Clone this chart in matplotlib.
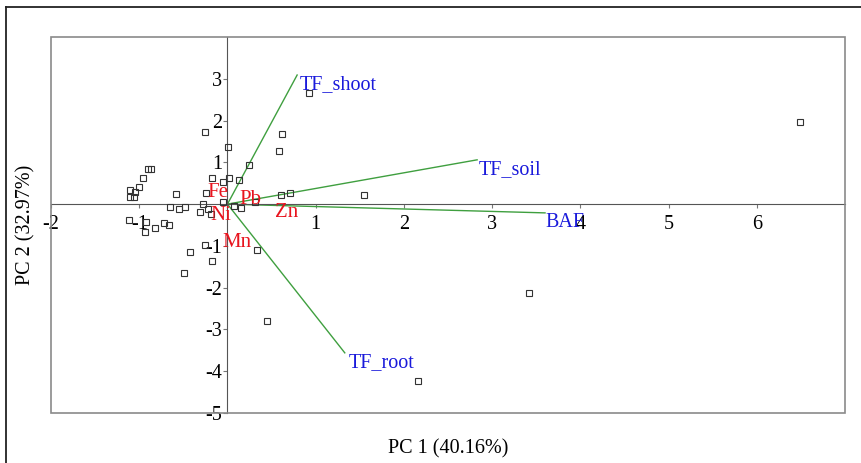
import numpy as np
import matplotlib.pyplot as plt
from matplotlib.lines import Line2D
from matplotlib.patches import Rectangle

plt.rcParams['font.family'] = ['Liberation Serif', 'DejaVu Serif']
plt.rcParams['axes.unicode_minus'] = False

# ----------------------------------------------
# Data
# ----------------------------------------------

# sample scores
pc1 = [-0.26, 0.01, 0.62, 0.59, 0.24, -0.87, -0.90, -0.96, -1.00, -1.11,
       -1.05, -1.11, -1.06, -0.17, -0.05, 0.02, 0.13, -0.58, -0.24, -0.28,
       -0.05, -0.65, -0.55, -0.48, -0.31, -0.22, -0.19, 0.07, 0.15, 0.31,
       -1.12, -0.92, -0.93, -0.82, -0.72, -0.66, -0.25, -0.43, -0.17, 0.34,
       -0.49, 0.93, 0.61, 0.71, 1.55, 0.45, 2.16, 3.42, 6.49]
pc2 = [1.73, 1.37, 1.67, 1.27, 0.94, 0.85, 0.83, 0.63, 0.41, 0.34,
       0.29, 0.16, 0.16, 0.62, 0.52, 0.63, 0.58, 0.24, 0.26, 0.01,
       0.04, -0.06, -0.12, -0.08, -0.20, -0.12, -0.23, -0.05, -0.09, 0.04,
       -0.37, -0.44, -0.66, -0.58, -0.46, -0.49, -0.97, -1.15, -1.35, -1.11,
       -1.65, 2.66, 0.21, 0.27, 0.22, -2.80, -4.23, -2.13, 1.96]

# variable loadings (drawn as lines from the origin)
vars_blue = ["TF_shoot", "TF_soil", "BAF", "TF_root"]
load_pc1 = [0.79, 2.83, 3.60, 1.33]
load_pc2 = [3.09, 1.06, -0.21, -3.56]
lab_pc1 = [0.82, 2.85, 3.61, 1.37]
lab_pc2 = [2.85, 0.82, -0.43, -3.80]

# metal variables (labels only, near the origin)
vars_red = ["Fe", "Pb", "Ni", "Zn", "Mn"]
red_pc1 = [-0.23, 0.13, -0.19, 0.54, -0.06]
red_pc2 = [0.28, 0.10, -0.28, -0.19, -0.91]

xticks = [-2, -1, 1, 2, 3, 4, 5, 6]
yticks = [-5, -4, -3, -2, -1, 1, 2, 3]

# ----------------------------------------------
# Figure
# ----------------------------------------------

fig = plt.figure(figsize=(8.62, 4.63), dpi=100)
ax = fig.add_axes([51/862, 1-413/463, 794/862, 376/463])

ax.set_xlim(-2, 7)
ax.set_ylim(-5, 4)

# axes cross at the origin
for side in ["top", "right"]:
    ax.spines[side].set_visible(False)
ax.spines["left"].set_position("zero")
ax.spines["bottom"].set_position("zero")
ax.spines["left"].set_color("#555555")
ax.spines["bottom"].set_color("#555555")
ax.add_patch(Rectangle((0, 0), 1, 1, transform=ax.transAxes, fill=False,
                       ec="#8a8a8a", lw=1.2, zorder=5, clip_on=False))

ax.set_xticks(xticks)
ax.set_yticks(yticks)
ax.set_xticklabels([str(t) for t in xticks])
ax.set_yticklabels([str(t) for t in yticks])
ax.tick_params(axis="both", direction="out", length=3, width=0.8,
               color="#777777", labelsize=14.5)
ax.tick_params(axis="x", pad=4.5)
ax.tick_params(axis="y", pad=1)

# loading lines
for i in range(len(vars_blue)):
    ax.plot([0, load_pc1[i]], [0, load_pc2[i]], color="#3f9f3f", lw=1.0, zorder=2)
    ax.text(lab_pc1[i], lab_pc2[i], vars_blue[i], color="#1a1adb",
            fontsize=14.5, ha="left", va="center", zorder=4)

for i in range(len(vars_red)):
    ax.text(red_pc1[i], red_pc2[i], vars_red[i], color="#e8141e",
            fontsize=15, ha="left", va="center", zorder=4)

# scores
ax.plot(pc1, pc2, ls="none", marker="s", ms=3.8, mfc="none", mec="#333333",
        mew=0.8, zorder=3, clip_on=False)

ax.set_xlabel("PC 1 (40.16%)", fontsize=14.5)
ax.xaxis.set_label_coords(0.5, -0.07)
ax.set_ylabel("PC 2 (32.97%)", fontsize=14.5)
ax.yaxis.set_label_coords(-0.02, 0.5)

# outer frame (left and top edges only)
fig.add_artist(Line2D([6/862, 6/862], [0, 1-7/463], color="#222222", lw=1.3))
fig.add_artist(Line2D([6/862, 1], [1-7/463, 1-7/463], color="#222222", lw=1.3))

fig.savefig("out.png", dpi=100)
